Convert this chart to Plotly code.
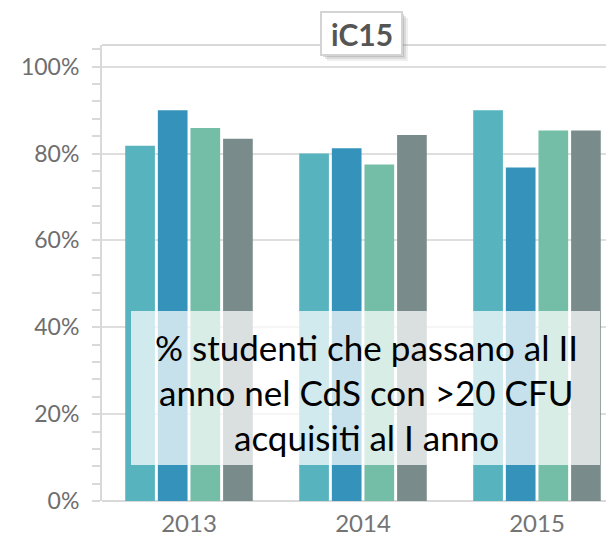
import plotly.graph_objects as go

years = ["2013", "2014", "2015"]
series_names = ["Serie 1", "Serie 2", "Serie 3", "Serie 4"]
serie_1 = [81.8, 80.0, 90.0]
serie_2 = [90.0, 81.2, 76.8]
serie_3 = [85.9, 77.5, 85.3]
serie_4 = [83.4, 84.3, 85.3]
colors = ["#57B4BF", "#3593BB", "#74BDA6", "#7A8B8B"]
y_ticks = [0, 20, 40, 60, 80, 100]
y_tick_labels = ["0%", "20%", "40%", "60%", "80%", "100%"]
title_text = "iC15"
overlay_lines = ["% studenti che passano al II", "anno nel CdS con >20 CFU", "acquisiti al I anno"]

W, H = 606, 541
ML, MR, MT, MB = 102, 0, 45, 40
PW = W - ML - MR
PH = H - MT - MB
YMAX = 105.0


def px_x(x):
    return (x - ML) / PW


def px_y(y):
    return 1 - (y - MT) / PH


fig = go.Figure()
for name, vals, col in zip(series_names, [serie_1, serie_2, serie_3, serie_4], colors):
    fig.add_trace(go.Bar(x=years, y=vals, name=name, marker=dict(color=col, line=dict(width=0))))

axis_col = "#d9d9d9"
fig.update_layout(
    width=W, height=H,
    margin=dict(l=ML, r=MR, t=MT, b=MB, pad=0, autoexpand=False),
    paper_bgcolor="white", plot_bgcolor="white",
    barmode="group", bargap=0.25, bargroupgap=0.09,
    showlegend=False, dragmode=False,
    font=dict(family="Lato", color="#707070"),
    xaxis=dict(
        type="category", range=[-0.5, -0.5 + PW / 174.0],
        showline=False, mirror=False, fixedrange=True,
        ticks="", showgrid=False, automargin=False, zeroline=False,
        ticklabelstandoff=6,
        tickfont=dict(size=24, color="#747474", family="Lato"),
    ),
    yaxis=dict(
        range=[0, YMAX], tickmode="array", tickvals=y_ticks, ticktext=y_tick_labels,
        showline=True, mirror=False, linecolor=axis_col, linewidth=2, automargin=False,
        showgrid=True, gridcolor="#dedede", gridwidth=2, fixedrange=True,
        zeroline=False,
        ticks="outside", ticklen=8, tickcolor=axis_col, tickwidth=2,
        ticklabelstandoff=8,
        tickfont=dict(size=23, color="#6e6e6e", family="Lato"),
        minor=dict(tick0=0, dtick=4, ticks="outside", ticklen=8, tickcolor=axis_col, tickwidth=2, showgrid=False),
    ),
)

shapes = []
# plot frame: top and bottom lines
shapes.append(dict(type="line", xref="paper", yref="paper", layer="below",
                   x0=0, x1=1, y0=1, y1=1, line=dict(color=axis_col, width=2)))
shapes.append(dict(type="line", xref="paper", yref="paper", layer="below",
                   x0=0, x1=1, y0=0, y1=0, line=dict(color=axis_col, width=2)))
# overlay translucent box
shapes.append(dict(type="rect", xref="paper", yref="paper", layer="above",
                   x0=px_x(131), x1=px_x(600), y0=px_y(465), y1=px_y(311),
                   fillcolor="rgba(255,255,255,0.72)", line=dict(width=0)))
# title shadow
for off, a in [(6, 0.12), (4, 0.18), (2, 0.25)]:
    shapes.append(dict(type="rect", xref="paper", yref="paper", layer="above",
                       x0=px_x(321 + off), x1=px_x(402 + off), y0=px_y(55 + off), y1=px_y(12 + off),
                       fillcolor=f"rgba(120,120,120,{a})", line=dict(width=0)))
# title box
shapes.append(dict(type="rect", xref="paper", yref="paper", layer="above",
                   x0=px_x(321), x1=px_x(402), y0=px_y(55), y1=px_y(12),
                   fillcolor="white", line=dict(color="#d4d4d4", width=2)))
fig.update_layout(shapes=shapes)

fig.add_annotation(text=f"<b>{title_text}</b>", xref="paper", yref="paper",
                   x=px_x(361.5), y=px_y(34), xanchor="center", yanchor="middle",
                   showarrow=False, font=dict(family="Lato", size=30, color="#555555"))

for line, yc in zip(overlay_lines, [347, 392, 437]):
    fig.add_annotation(text=line, xref="paper", yref="paper",
                       x=px_x(366), y=px_y(yc), xanchor="center", yanchor="middle",
                       showarrow=False, font=dict(family="Lato", size=35, color="#000000"))

fig.write_html("out.html", config={"displayModeBar": False, "staticPlot": True},
               post_script="document.body.style.margin='0';document.body.style.overflow='hidden';")
